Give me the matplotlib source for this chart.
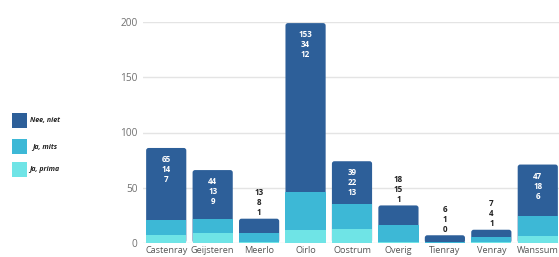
import matplotlib
matplotlib.use("Agg")
import matplotlib.pyplot as plt
from matplotlib.patches import FancyBboxPatch, Rectangle
import numpy as np

categories = ["Castenray", "Geijsteren", "Meerlo", "Oirlo", "Oostrum",
              "Overig", "Tienray", "Venray", "Wanssum"]
nee_niet = [65, 44, 13, 153, 39, 18, 6, 7, 47]
ja_mits = [14, 13, 8, 34, 22, 15, 1, 4, 18]
ja_prima = [7, 9, 1, 12, 13, 1, 0, 1, 6]
series_names = ["Nee, niet", "Ja, mits", "Ja, prima"]
yticks = [0, 50, 100, 150, 200]

c_nee = "#2d5f99"
c_mits = "#3db8d6"
c_prima = "#6fe4e6"

plt.rcParams['font.family'] = ['Open Sans', 'DejaVu Sans']

W, H = 559, 257
fig = plt.figure(figsize=(W / 100, H / 100), dpi=100)
left, right = 143, 561
bottom, top = 243, 22
ax = fig.add_axes([left / W, 1 - bottom / H, (right - left) / W, (bottom - top) / H])

x = np.arange(len(categories))
nee = np.array(nee_niet)
mits = np.array(ja_mits)
prima = np.array(ja_prima)
total = nee + mits + prima
bw = 0.865

ax.set_xlim(-0.5, len(categories) - 0.5)
ax.set_ylim(0, 200)

px_x = (right - left) / len(categories)
px_y = (bottom - top) / 200.0
r_px = 2.5
rx = r_px / px_x
aspect = (r_px / px_y) / rx

for xi, t in zip(x, total):
    p = FancyBboxPatch((xi - bw / 2, 0), bw, t,
                       boxstyle=f"round,pad=0,rounding_size={rx}",
                       mutation_aspect=aspect, facecolor=c_nee,
                       edgecolor="none", zorder=2)
    ax.add_patch(p)
ax.bar(x, mits, bw, bottom=prima, color=c_mits, zorder=3, linewidth=0)
ax.bar(x, prima, bw, bottom=0, color=c_prima, zorder=3, linewidth=0)

line_px = 10.0
for xi, t, a, b, c in zip(x, total, nee, mits, prima):
    vals = [a, b, c]
    if t >= 50:
        y0 = t - 11.5 / px_y
        col = "white"
    else:
        y0 = t + 26 / px_y
        col = "#222222"
    for k, v in enumerate(vals):
        ax.text(xi, y0 - k * line_px / px_y, str(v), ha="center", va="center",
                fontsize=5.8, fontweight="bold", color=col, zorder=5)

ax.set_yticks(yticks)
ax.set_yticklabels([str(v) for v in yticks])
ax.grid(axis="y", color="#e4e4e4", linewidth=1, zorder=0)
ax.set_axisbelow(True)
for s in ax.spines.values():
    s.set_visible(False)
ax.tick_params(axis="y", length=0, pad=4, labelsize=7.3, labelcolor="#707070")
ax.set_xticks(x)
ax.set_xticklabels(categories)
ax.tick_params(axis="x", length=0, pad=2.5, labelsize=6.6, labelcolor="#555555")

leg_colors = [c_nee, c_mits, c_prima]
leg_y = [113, 139, 162]
for name, col, yy in zip(series_names, leg_colors, leg_y):
    fig.add_artist(Rectangle((12 / W, 1 - (yy + 15) / H), 15 / W, 15 / H,
                             transform=fig.transFigure, facecolor=col,
                             edgecolor="none"))
    fig.text(44.5 / W, 1 - (yy + 7.5) / H, name, ha="center", va="center",
             fontsize=5, fontstyle="italic", fontweight="bold", color="#222222")

fig.savefig("out.png", dpi=100)
